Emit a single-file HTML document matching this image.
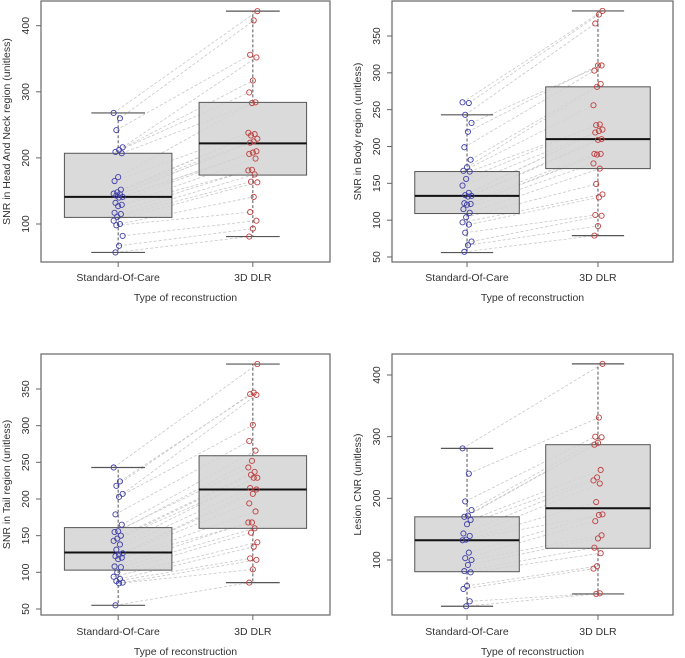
<!DOCTYPE html>
<html><head><meta charset="utf-8"><style>
body{margin:0;background:#fff}
svg{display:block;font-family:"Liberation Sans",Arial,sans-serif}
</style></head><body>
<svg id="c" width="685" height="658" viewBox="0 0 685 658" xmlns="http://www.w3.org/2000/svg"></svg>
<script>
const categories = ["Standard-Of-Care", "3D DLR"];
const titles = ["SNR in Head And Neck region (unitless)", "SNR in Body region (unitless)", "SNR in Tail region (unitless)", "Lesion CNR (unitless)"];
const ticks1 = [100, 200, 300, 400];
const ticks2 = [50, 100, 150, 200, 250, 300, 350];
const ticks3 = [50, 100, 150, 200, 250, 300, 350];
const ticks4 = [100, 200, 300, 400];
// box stats: [whiskLo, q1, median, q3, whiskHi]
const box1Soc = [57, 110, 141, 207, 268];
const box1Dlr = [81, 174, 222, 284, 422];
const box2Soc = [56, 109, 133, 166, 243];
const box2Dlr = [79, 170, 210, 281, 384];
const box3Soc = [55, 103, 127, 161, 243];
const box3Dlr = [86, 160, 213, 259, 384];
const box4Soc = [25, 81, 132, 170, 281];
const box4Dlr = [45, 119, 184, 287, 418];
const pts1Soc = [268,260,242,216,212,209,207,171,165,152,148,146,145,143,141,140,132,129,127,117,115,111,105,100,98,82,67,57];
const pts1Dlr = [422,408,356,352,317,299,284,283,238,236,234,229,225,223,210,208,206,199,182,181,175,164,163,141,118,105,93,81];
const pts2Soc = [260,259,243,232,220,199,182,172,167,166,156,147,137,134,133,132,123,122,121,115,110,104,97,94,83,71,66,57];
const pts2Dlr = [384,379,367,310,310,303,285,281,256,230,229,223,221,219,210,209,190,190,189,177,170,149,135,131,107,106,92,79];
const pts3Soc = [243,224,218,207,203,179,165,156,155,150,146,143,138,131,126,124,122,120,118,108,107,100,94,91,88,86,85,55];
const pts3Dlr = [384,345,343,342,301,279,266,252,243,237,233,229,229,215,213,207,194,183,168,168,160,154,141,135,119,117,104,86];
const pts4Soc = [281,240,195,181,172,170,165,158,143,139,133,132,112,103,100,92,82,80,58,53,33,25];
const pts4Dlr = [418,331,300,299,290,287,246,234,229,224,194,174,173,163,140,135,120,111,90,86,46,45];

const panels = [
 {L:41,R:330,T:1,B:262,v0:100,p0:224,v1:400,p1:25.7,ticks:ticks1,boxes:[box1Soc,box1Dlr],pts:[pts1Soc,pts1Dlr],out:[],title:titles[0],xl:277,xt:297},
 {L:392,R:673,T:1,B:262,v0:50,p0:257,v1:350,p1:36,ticks:ticks2,boxes:[box2Soc,box2Dlr],pts:[pts2Soc,pts2Dlr],title:titles[1],xl:277,xt:297},
 {L:41,R:330,T:354,B:615,v0:50,p0:609,v1:350,p1:389,ticks:ticks3,boxes:[box3Soc,box3Dlr],pts:[pts3Soc,pts3Dlr],title:titles[2],xl:631,xt:651},
 {L:392,R:673,T:354,B:615,v0:100,p0:560,v1:400,p1:375,ticks:ticks4,boxes:[box4Soc,box4Dlr],pts:[pts4Soc,pts4Dlr],title:titles[3],xl:631,xt:651}
];
const svg = document.getElementById('c');
const NS = "http://www.w3.org/2000/svg";
function mk(tag, attrs, parent, text){
  const e = document.createElementNS(NS, tag);
  for (const k in attrs) e.setAttribute(k, attrs[k]);
  if (text !== undefined) e.textContent = text;
  parent.appendChild(e);
  return e;
}
panels.forEach((P, pi) => {
  const g = mk('g', {}, svg);
  
  
  const y = v => P.p0 + (v - P.v0) * (P.p1 - P.p0) / (P.v1 - P.v0);
  const w = P.R - P.L;
  const x = i => P.L + w * (i === 0 ? 0.267 : 0.733);
  const bh = w * 0.186, ch = w * 0.093;
  // lines between pairs
  const a = P.pts[0], b = P.pts[1];
  const jit = i => ((i * 7) % 11 - 5) * 0.9;
  for (let i = 0; i < a.length; i++) {
    const ln = mk('line', {x1:x(0)+jit(i), y1:y(a[i]), x2:x(1)+jit(i+3), y2:y(b[i]), stroke:'#c8c8c8', 'stroke-width':0.8, 'stroke-dasharray':'3,2'}, g);
    
    
  }
  // boxes
  P.boxes.forEach((s, i) => {
    const cx = x(i);
    const bx = mk('rect', {x:cx-bh, y:y(s[3]), width:2*bh, height:y(s[1])-y(s[3]), fill:'#d3d3d3', stroke:'#555', 'stroke-width':1, 'fill-opacity':0.85}, g);
    
    
    const md = mk('line', {x1:cx-bh, x2:cx+bh, y1:y(s[2]), y2:y(s[2]), stroke:'#111', 'stroke-width':2}, g);
    
    
    mk('line', {x1:cx, x2:cx, y1:y(s[3]), y2:y(s[4]), stroke:'#555', 'stroke-dasharray':'3,2'}, g);
    mk('line', {x1:cx, x2:cx, y1:y(s[1]), y2:y(s[0]), stroke:'#555', 'stroke-dasharray':'3,2'}, g);
    mk('line', {x1:cx-ch, x2:cx+ch, y1:y(s[4]), y2:y(s[4]), stroke:'#555', 'stroke-width':1.2}, g);
    mk('line', {x1:cx-ch, x2:cx+ch, y1:y(s[0]), y2:y(s[0]), stroke:'#555', 'stroke-width':1.2}, g);
  });
  // points
  P.pts.forEach((arr, si) => {
    arr.forEach((v, i) => {
      const c = mk('circle', {cx:x(si)+jit(i+si*3), cy:y(v), r:2.6, fill:'none', stroke: si === 0 ? '#4040a8' : '#c04040', 'stroke-width':0.9}, g);
      
      
    });
  });
  // frame
  const fr = mk('rect', {x:P.L, y:P.T, width:w, height:P.B-P.T, fill:'none', stroke:'#666', 'stroke-width':1.2}, g);
  
  
  // y ticks
  P.ticks.forEach(t => {
    mk('line', {x1:P.L-5, x2:P.L, y1:y(t), y2:y(t), stroke:'#666'}, g);
    const tx = mk('text', {x:P.L-12, y:y(t), 'font-size':10.5, fill:'#333', 'text-anchor':'middle', transform:`rotate(-90 ${P.L-12} ${y(t)})`}, g, String(t));
    
    
  });
  // x ticks
  categories.forEach((c, i) => {
    mk('line', {x1:x(i), x2:x(i), y1:P.B, y2:P.B+5, stroke:'#666'}, g);
    const tx = mk('text', {x:x(i), y:P.xl+4, 'font-size':10.5, fill:'#333', 'text-anchor':'middle'}, g, c);
    
    
  });
  const xt = mk('text', {x:(P.L+P.R)/2, y:P.xt+4, 'font-size':10.5, fill:'#333', 'text-anchor':'middle'}, g, 'Type of reconstruction');
  
  
  const yc = (P.T + P.B) / 2, yx = P.L - 31;
  const yt = mk('text', {x:yx, y:yc, 'font-size':10.5, fill:'#333', 'text-anchor':'middle', transform:`rotate(-90 ${yx} ${yc})`}, g, P.title);
  
  
});
</script>
</body></html>
